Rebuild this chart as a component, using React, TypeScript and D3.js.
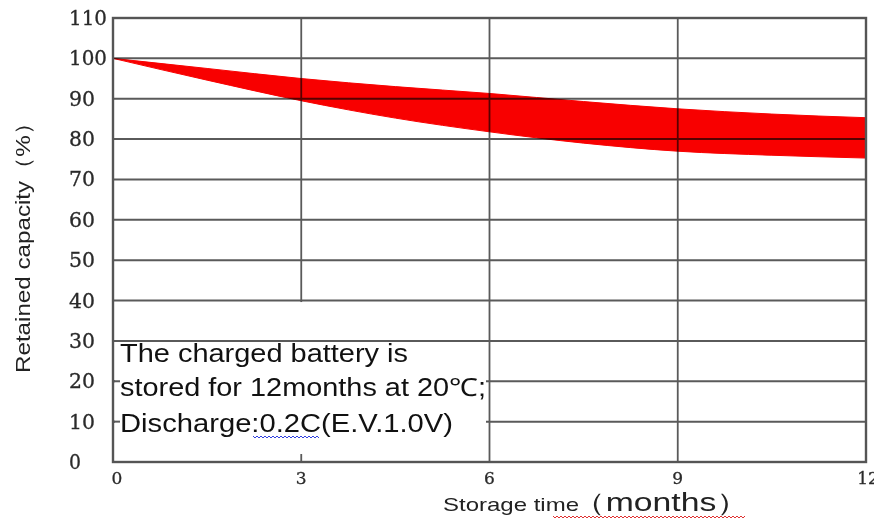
import React from 'react';
import * as d3 from 'd3';

// storage time (months) and the retained-capacity band (%)
const months = [0, 1.5, 3, 4.5, 6, 7.5, 9, 10.5, 12];
const upperCapacity = [100, 97.5, 95, 93, 91.3, 89.3, 87.5, 86.2, 85.3];
const lowerCapacity = [100, 94.6, 89.5, 85.2, 81.8, 79, 77, 76, 75.3];

const yTicks = [0, 10, 20, 30, 40, 50, 60, 70, 80, 90, 100, 110];
const xTicks = [0, 3, 6, 9, 12];

const noteLines = [
  'The charged battery is',
  'stored for 12months at 20\u2103;',
  'Discharge:0.2C(E.V.1.0V)',
];

const width = 874;
const height = 521;

const wavy = (x0: number, x1: number, y: number) => {
  let d = `M${x0},${y}`;
  for (let x = x0, i = 0; x < x1; x += 2, i++) {
    d += ` L${x + 2},${y + (i % 2 === 0 ? 2 : 0)}`;
  }
  return d;
};

const Chart: React.FC = () => {
  const x = d3.scaleLinear().domain([0, 12]).range([113, 866]);
  const y = d3.scaleLinear().domain([0, 110]).range([462, 18]);

  const band = months.map((m, i) => ({ m, hi: upperCapacity[i], lo: lowerCapacity[i] }));
  const area = d3
    .area<{ m: number; hi: number; lo: number }>()
    .x(d => x(d.m))
    .y0(d => y(d.lo))
    .y1(d => y(d.hi))
    .curve(d3.curveMonotoneX);

  const grid = '#5a5a5a';
  const serif = '"DejaVu Serif", serif';
  const sans = '"Liberation Sans", Arial, sans-serif';

  // the note box hides part of the grid
  const boxX0 = 115;
  const boxX1 = 486;
  const boxY0 = y(40) + 1.5;
  const boxY1 = y(0) - 8;

  return (
    <svg width={width} height={height} style={{ position: 'absolute', left: 0, top: 0, background: '#fff' }}>
      {/* horizontal grid */}
      {yTicks.filter(t => t > 0).map(t => (
        <line key={'h' + t} x1={x(0)} x2={x(12)} y1={y(t)} y2={y(t)} stroke={grid} strokeWidth={2} />
      ))}
      {/* vertical grid */}
      {xTicks.filter(t => t > 0 && t < 12).map(t => (
        <line key={'v' + t} x1={x(t)} x2={x(t)} y1={y(110)} y2={y(0)} stroke={grid} strokeWidth={1.8} />
      ))}

      {/* note box */}
      <rect x={boxX0} y={boxY0} width={boxX1 - boxX0} height={boxY1 - boxY0} fill="#fff" />
      <line x1={x(0)} x2={x(12)} y1={y(30)} y2={y(30)} stroke={grid} strokeWidth={2} />
      {[20, 10].map(t => (
        <line key={'s' + t} x1={x(0)} x2={x(0) + 7} y1={y(t)} y2={y(t)} stroke={grid} strokeWidth={2} />
      ))}

      {/* retained capacity band */}
      <path d={area(band) ?? ''} fill="#f80000" stroke="#f80000" strokeWidth={1} style={{ mixBlendMode: 'multiply' }} />

      {/* frame */}
      <rect x={x(0)} y={y(110)} width={x(12) - x(0)} height={y(0) - y(110)} fill="none" stroke="#555" strokeWidth={2.4} />

      {/* y tick labels */}
      {yTicks.map(t => (
        <text key={'yl' + t} x={69} y={y(t) + 7} fontFamily={serif} fontSize={20} fill="#2a2a2a"
          stroke="#2a2a2a" strokeWidth={0.3}
          textLength={t >= 100 ? 38 : t === 0 ? 12 : 26} lengthAdjust="spacingAndGlyphs">
          {t}
        </text>
      ))}

      {/* x tick labels */}
      {xTicks.map(t => (
        <text key={'xl' + t} x={x(t) + (t === 0 ? 4 : t === 12 ? 2 : 0)} y={484} fontFamily={serif} fontSize={17}
          fill="#2a2a2a" stroke="#2a2a2a" strokeWidth={0.3} textAnchor="middle">
          {t}
        </text>
      ))}

      {/* axis titles */}
      <text transform="translate(30,373) rotate(-90)" fontFamily={sans} fontSize={21} fill="#222"
        textLength={262} lengthAdjust="spacingAndGlyphs">
        Retained capacity{'\uFF08'}%{'\uFF09'}
      </text>
      <text x={443} y={511} fontFamily={sans} fontSize={19} fill="#222" textLength={136} lengthAdjust="spacingAndGlyphs">
        Storage time
      </text>
      <text x={572} y={511} fontFamily={sans} fontSize={25} fill="#222" textLength={178} lengthAdjust="spacingAndGlyphs">
        {'\uFF08'}months{'\uFF09'}
      </text>
      <path d={wavy(553, 745, 516)} fill="none" stroke="#e03030" strokeWidth={1} />

      {/* note */}
      {noteLines.map((line, i) => (
        <text key={'n' + i} x={120} y={[362, 396, 432][i]} fontFamily={sans} fontSize={25} fill="#111"
          textLength={[288, 366, 333][i]} lengthAdjust="spacingAndGlyphs">
          {line}
        </text>
      ))}
      <path d={wavy(253, 318, 436)} fill="none" stroke="#3040e0" strokeWidth={1} />
    </svg>
  );
};

const App: React.FC = () => <Chart />;

export default App;
